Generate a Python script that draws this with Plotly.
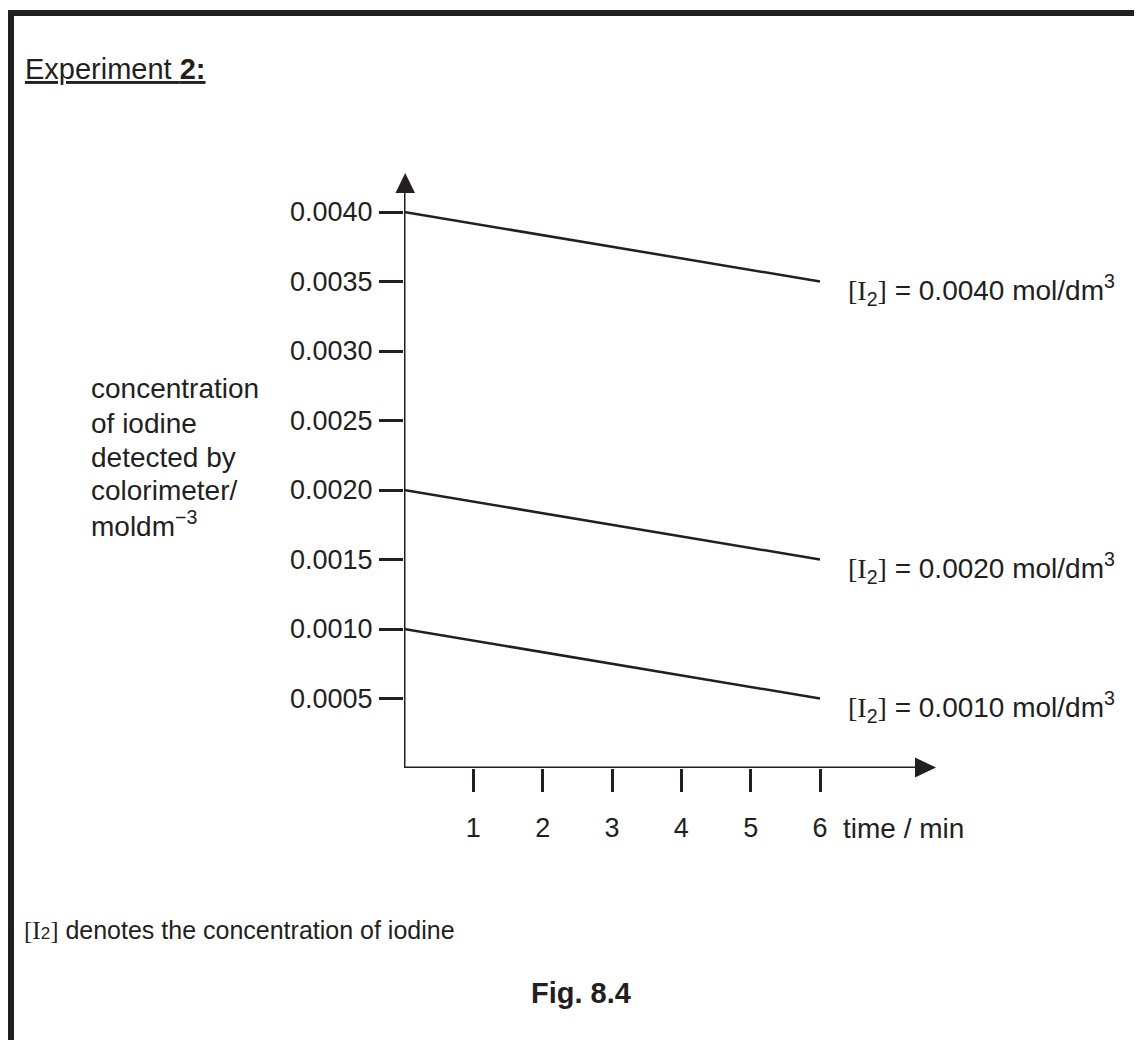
import plotly.graph_objects as go

# ---------------- data ----------------
time_min = [0, 6]
series_names = ["0.0040", "0.0020", "0.0010"]
series_start = [0.0040, 0.0020, 0.0010]
series_end = [0.0035, 0.0015, 0.0005]
y_tick_vals = [0.0005, 0.0010, 0.0015, 0.0020, 0.0025, 0.0030, 0.0035, 0.0040]
y_tick_text = ["0.0005", "0.0010", "0.0015", "0.0020", "0.0025", "0.0030", "0.0035", "0.0040"]
x_tick_vals = [1, 2, 3, 4, 5, 6]
x_tick_text = ["1", "2", "3", "4", "5", "6"]

INK = "#231f20"
FONT = "Liberation Sans, Arial, sans-serif"
SERIF = "Liberation Serif, Times New Roman, serif"
FS = 28

OFF = 8  # browser body margin
W, H = 1142 - OFF, 1040 - OFF
PL, PR, PT, PB = 404, 936, 173, 768  # plot area pixel box (page coords)
X_MAX = 7.673
Y_MAX = 0.0042806


def px(x):
    return (x - PL) / (PR - PL)


def py(y):
    return (PB - y) / (PB - PT)


fig = go.Figure()
for name, y0, y1 in zip(series_names, series_start, series_end):
    fig.add_trace(go.Scatter(
        x=time_min, y=[y0, y1], mode="lines",
        line=dict(color=INK, width=2.5), showlegend=False, hoverinfo="skip"))

shapes = []
# axis lines
shapes.append(dict(type="line", xref="x", yref="y", x0=0, y0=0, x1=0,
                   y1=Y_MAX * (PB - 190) / (PB - PT), line=dict(color=INK, width=3)))
shapes.append(dict(type="line", xref="x", yref="y", x0=0, y0=0,
                   x1=X_MAX * (916 - PL) / (PR - PL), y1=0, line=dict(color=INK, width=3)))
# arrow heads
shapes.append(dict(type="path", xref="paper", yref="paper",
                   path=f"M {px(395.5)} {py(193)} L {px(415)} {py(193)} L {px(405.2)} {py(173)} Z",
                   fillcolor=INK, line=dict(width=0)))
shapes.append(dict(type="path", xref="paper", yref="paper",
                   path=f"M {px(915)} {py(757.5)} L {px(915)} {py(777.5)} L {px(936)} {py(767.5)} Z",
                   fillcolor=INK, line=dict(width=0)))
# frame border (top + left)
shapes.append(dict(type="rect", xref="paper", yref="paper",
                   x0=px(8), x1=px(1150), y0=py(16), y1=py(10),
                   fillcolor=INK, line=dict(width=0)))
shapes.append(dict(type="rect", xref="paper", yref="paper",
                   x0=px(8), x1=px(14), y0=py(1045), y1=py(10),
                   fillcolor=INK, line=dict(width=0)))

ann = []


def add_text(text, x, y, xanchor="left", size=FS, family=FONT):
    ann.append(dict(text=text, x=px(x), y=py(y), xref="paper", yref="paper",
                    xanchor=xanchor, yanchor="middle", showarrow=False,
                    font=dict(family=family, size=size, color=INK)))


add_text("<u>Experiment </u><u><b>2:</b></u>", 23, 69, size=29)
for txt, yy in zip(["concentration", "of iodine", "detected by", "colorimeter/",
                    "moldm<sup>−3</sup>"], [388, 423, 457, 490, 524]):
    add_text(txt, 89, yy)

serif_i2 = (f"<span style='font-family:{SERIF}'>[I</span><sub>2</sub>"
            f"<span style='font-family:{SERIF}'>]</span>")
for name, yy in zip(series_names, [290, 568, 707]):
    add_text(f"{serif_i2} = {name} mol/dm<sup>3</sup>", 846, yy)

add_text("time / min", 841, 828)
add_text(f"<span style='font-family:{SERIF}'>[I</span><span style='font-size:17px'>2</span>"
         f"<span style='font-family:{SERIF}'>]</span> denotes the concentration of iodine", 22, 930,
         size=25)
add_text("<b>Fig. 8.4</b>", 581, 993, xanchor="center", size=29)

fig.update_layout(
    width=W, height=H,
    margin=dict(l=PL - OFF, r=W - (PR - OFF), t=PT - OFF, b=H - (PB - OFF), pad=0),
    paper_bgcolor="white", plot_bgcolor="white",
    showlegend=False,
    font=dict(family=FONT, size=FS, color=INK),
    shapes=shapes, annotations=ann,
    xaxis=dict(range=[0, X_MAX], tickvals=x_tick_vals, ticktext=x_tick_text,
               ticks="outside", ticklen=23, tickwidth=2.5, tickcolor=INK,
               showline=False, showgrid=False, zeroline=False,
               ticklabelstandoff=13, tickfont=dict(family=FONT, size=27, color=INK)),
    yaxis=dict(range=[0, Y_MAX], tickvals=y_tick_vals, ticktext=y_tick_text,
               ticks="outside", ticklen=24, tickwidth=2.5, tickcolor=INK,
               showline=False, showgrid=False, zeroline=False,
               ticklabelstandoff=1, tickfont=dict(family=FONT, size=27, color=INK)),
)

fig.write_html("out.html")
